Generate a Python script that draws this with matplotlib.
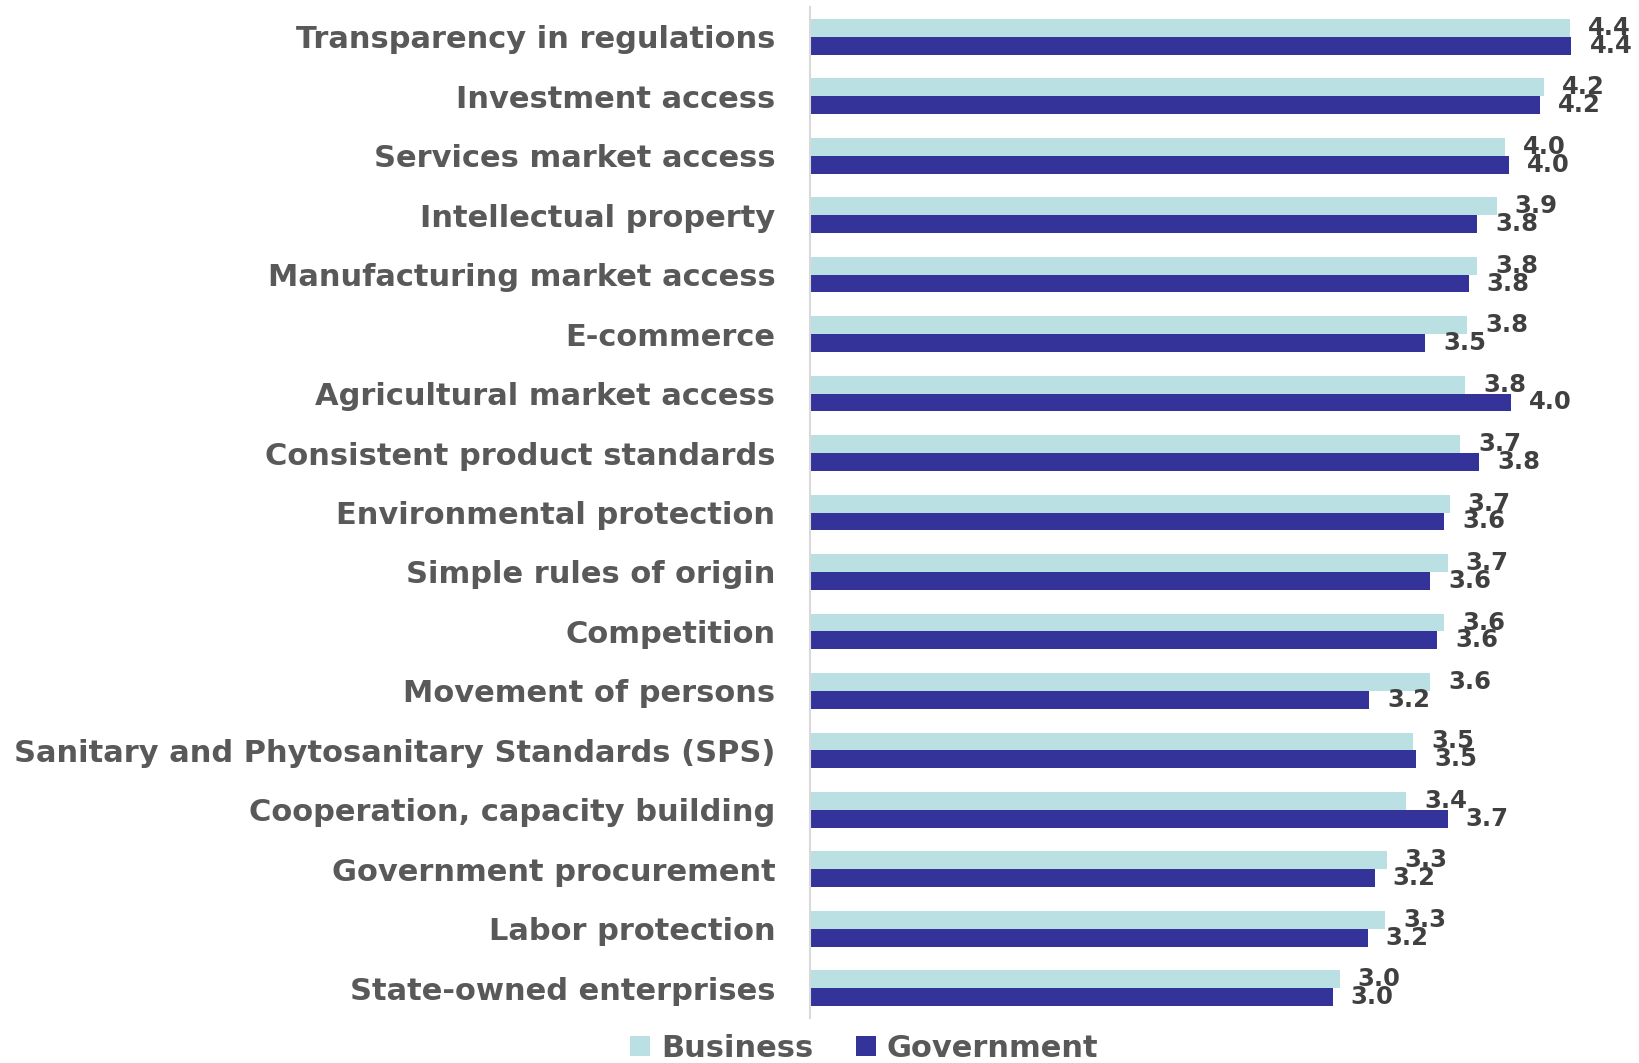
import matplotlib
matplotlib.use('Agg')
import matplotlib.pyplot as plt
import numpy as np

# survey priorities, mean score by respondent group
categories = [
    'Transparency in regulations',
    'Investment access',
    'Services market access',
    'Intellectual property',
    'Manufacturing market access',
    'E-commerce',
    'Agricultural market access',
    'Consistent product standards',
    'Environmental protection',
    'Simple rules of origin',
    'Competition',
    'Movement of persons',
    'Sanitary and Phytosanitary Standards (SPS)',
    'Cooperation, capacity building',
    'Government procurement',
    'Labor protection',
    'State-owned enterprises',
]
business = [4.36, 4.21, 3.99, 3.94, 3.83, 3.77, 3.76, 3.73, 3.67, 3.66,
            3.64, 3.56, 3.46, 3.42, 3.31, 3.30, 3.04]
government = [4.37, 4.19, 4.01, 3.83, 3.78, 3.53, 4.02, 3.84, 3.64, 3.56,
              3.60, 3.21, 3.48, 3.66, 3.24, 3.20, 3.00]

W, H = 1640, 1063
fig = plt.figure(figsize=(W / 100, H / 100), dpi=100)
ax = fig.add_axes([810 / W, 45 / H, 819 / W, 1011 / H])

y = np.arange(len(categories))
h = 0.3
b1 = ax.barh(y - h / 2, business, height=h, color='#BAE0E3', label='Business')
b2 = ax.barh(y + h / 2, government, height=h, color='#333399', label='Government')

ax.set_ylim(len(categories) - 0.5, -0.5)
ax.set_xlim(0, 4.7)
ax.set_yticks(y)
ax.set_yticklabels(categories, fontsize=22, fontweight='bold', color='#595959')
ax.tick_params(axis='y', length=0, pad=25)
ax.set_xticks([])
for s in ['top', 'right', 'bottom']:
    ax.spines[s].set_visible(False)
ax.spines['left'].set_color('#d9d9d9')
ax.spines['left'].set_linewidth(1.5)

for bars in (b1, b2):
    ax.bar_label(bars, fmt='%.1f', padding=13, fontsize=17.5,
                 fontweight='bold', color='#404040')

fig.legend(handles=[b1, b2], loc='center', bbox_to_anchor=(0.527, 0.014),
           ncol=2, frameon=False, prop=dict(size=22, weight='bold'),
           labelcolor='#595959', handlelength=0.65, handleheight=0.65,
           handletextpad=0.35, columnspacing=1.4)

fig.savefig('out.png', dpi=100)
